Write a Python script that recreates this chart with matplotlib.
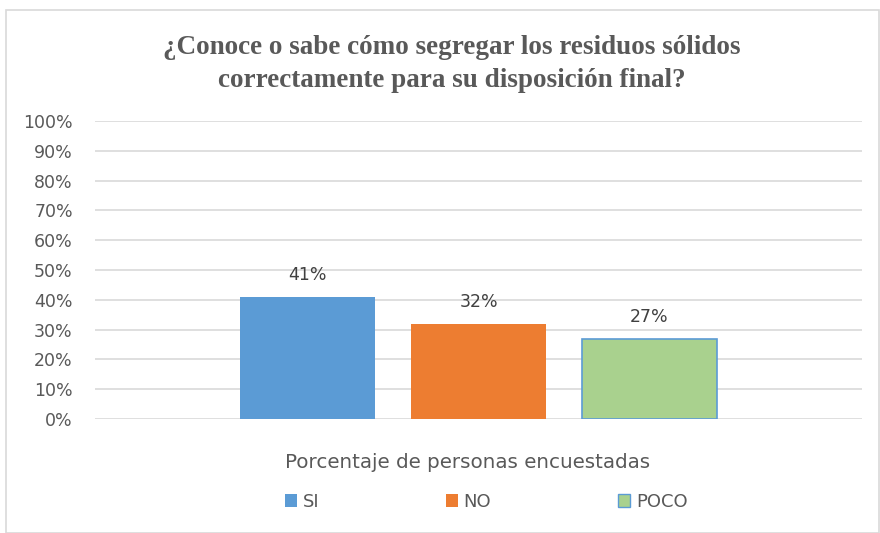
import matplotlib.pyplot as plt
from matplotlib.patches import Rectangle, Patch

series = ['SI', 'NO', 'POCO']
values = [41, 32, 27]
colors = ['#5b9bd5', '#ed7d31', '#a9d18e']
edges = ['#5b9bd5', '#ed7d31', '#5b9bd5']
xlabel = 'Porcentaje de personas encuestadas'
title = '¿Conoce o sabe cómo segregar los residuos sólidos\ncorrectamente para su disposición final?'

grey = '#595959'
fig = plt.figure(figsize=(8.8, 5.33), dpi=100)
fig.patches.append(Rectangle((6/880, 0), 873/880, 1 - 10/533, transform=fig.transFigure,
                             fill=False, edgecolor='#d9d9d9', linewidth=1.2))

ax = fig.add_axes([95/880, 1 - 419/533, 767/880, 298/533])
pos = list(range(len(values)))
for i in pos:
    ax.bar(i, values[i], width=0.79, color=colors[i], edgecolor=edges[i],
           linewidth=1.2 if i == 2 else 0, zorder=3)
    ax.annotate(f'{values[i]}%', (i, values[i]), xytext=(0, 9), textcoords='offset points',
                ha='center', va='bottom', fontsize=12.5, color='#404040')

ax.set_xlim(1 - 2.243, 1 + 2.243)
ax.set_ylim(0, 100)
ax.set_yticks(range(0, 101, 10))
ax.set_yticklabels([f'{t}%' for t in range(0, 101, 10)], fontsize=12.5, color=grey)
ax.set_xticks([])
ax.tick_params(axis='y', length=0, pad=16)
ax.grid(axis='y', color='#d9d9d9', linewidth=1.2, zorder=0)
for s in ax.spines.values():
    s.set_visible(False)

fig.text(468/880, 1 - 462/533, xlabel, ha='center', va='center', fontsize=14.3, color=grey)
fig.text(452/880, 1 - 64/533, title, ha='center', va='center', fontsize=19.5,
         fontweight='bold', family='Liberation Serif', color=grey, linespacing=1.38)

handles = [Patch(facecolor=colors[i], edgecolor=edges[i], linewidth=1 if i == 2 else 0)
           for i in pos]
fig.legend(handles, series, loc='center', bbox_to_anchor=(486/880, 1 - 502/533), ncol=3,
           frameon=False, fontsize=13, labelcolor=grey, handlelength=0.7, handleheight=0.7,
           handletextpad=0.3, columnspacing=7.0)

fig.savefig('out.png', dpi=100)
